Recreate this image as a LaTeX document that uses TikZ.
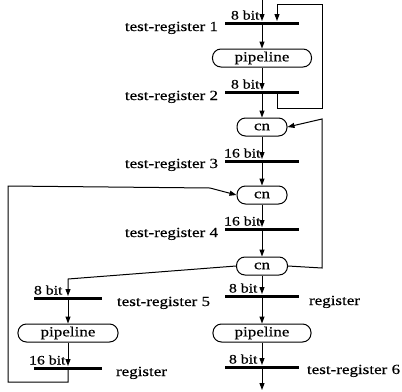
\documentclass[tikz,border=0pt]{standalone}
\usepackage{fontspec}
\setmainfont{Liberation Serif}[FakeStretch=1.22,FakeBold=0.4]
\usetikzlibrary{arrows.meta,calc}
\begin{document}
\begin{tikzpicture}[x=1bp,y=-1bp,line width=1bp,
  bar/.style={fill=black,draw=none,inner sep=0pt,minimum height=3bp,minimum width=74bp},
  lbar/.style={bar,minimum width=68bp},
  proc/.style={draw,line width=1bp,rounded corners=8.5bp,minimum height=18bp,inner sep=0pt,
    font=\fontsize{14}{16}\selectfont},
  arr/.style={-{Triangle[length=7bp,width=5bp]}},
  lbl/.style={font=\fontsize{13}{14}\selectfont,inner sep=0pt},
  txt/.style={font=\fontsize{14}{16}\selectfont,inner sep=0pt}]
\useasboundingbox (0,0) rectangle (402,392);
% main column
\coordinate (top) at (262,0);
\node[bar] (r1) at (262,23) {};
\node[proc,minimum width=99bp] (p1) at (262,58) {pipeline};
\node[bar] (r2) at (262,92) {};
\node[proc,minimum width=50bp] (c1) at (262,127) {cn};
\node[bar] (r3) at (262,161) {};
\node[proc,minimum width=50bp] (c2) at (262,195) {cn};
\node[bar] (r4) at (262,229) {};
\node[proc,minimum width=51bp] (c3) at (262,266) {cn};
\node[bar] (r5) at (262,296) {};
\node[proc,minimum width=98bp] (p3) at (262,333) {pipeline};
\node[bar] (r6) at (262,367) {};
\coordinate (bot) at (262,390);
% left column
\coordinate (lb) at (68,279);
\node[lbar] (l1) at (68,298) {};
\node[proc,minimum width=100bp] (p2) at (68,333) {pipeline};
\node[lbar] (l2) at (68,368) {};
% loop coordinates
\coordinate (fA) at (277,108);
\coordinate (fB) at (322,108);
\coordinate (fC) at (322,4);
\coordinate (fD) at (277,4);
\coordinate (gA) at (322,268);
\coordinate (gB) at (322,119);
\coordinate (lA) at (68,382);
\coordinate (lB) at (8,382);
\coordinate (lC) at (8,186);
\coordinate (lD) at (210,188);
% main flow
\draw[arr] (top) -- (r1);
\draw[arr] (r1) -- (p1);
\draw[arr] (p1) -- (r2);
\draw[arr] (r2) -- (c1);
\draw[arr] (c1) -- (r3);
\draw[arr] (r3) -- (c2);
\draw[arr] (c2) -- (r4);
\draw[arr] (r4) -- (c3);
\draw[arr] (c3) -- (r5);
\draw[arr] (r5) -- (p3);
\draw[arr] (p3) -- (r6);
\draw[arr] (r6) -- (bot);
% left branch
\draw[arr] (c3.west) -- (lb) -- (l1);
\draw[arr] (l1) -- (p2);
\draw[arr] (p2) -- (l2);
% feedback loops
\draw[arr] (fA |- r2.center) -- (fA) -- (fB) -- (fC) -- (fD) -- (fD |- r1.north);
\draw[arr] (c3.east) -- (gA) -- (gB) -- (c1.east);
\draw[arr] (l2.center) -- (lA) -- (lB) -- (lC) -- (lD) -- (c2.west);
% bit labels
\node[lbl,anchor=base east] (b1) at ($(r1.north)+(-2,-1.5)$) {8 bit};
\node[lbl,anchor=base east] (b2) at ($(r2.north)+(-2,-1.5)$) {8 bit};
\node[lbl,anchor=base east] (b3) at ($(r3.north)+(-1,-1.5)$) {16 bit};
\node[lbl,anchor=base east] (b4) at ($(r4.north)+(-1,-1.5)$) {16 bit};
\node[lbl,anchor=base east] (b5) at ($(r5.north)+(-4,-1.5)$) {8 bit};
\node[lbl,anchor=base east] (b6) at ($(r6.north)+(-4,-1.5)$) {8 bit};
\node[lbl,anchor=base east] (b7) at ($(l1.north)+(-5,-1.5)$) {8 bit};
\node[lbl,anchor=base east] (b8) at ($(l2.north)+(-2,-1.5)$) {16 bit};
% register names
\node[txt,anchor=base east] (t1) at ($(r1.west)+(-6,8)$) {test-register 1};
\node[txt,anchor=base east] (t2) at ($(r2.west)+(-6,8)$) {test-register 2};
\node[txt,anchor=base east] (t3) at ($(r3.west)+(-6,7)$) {test-register 3};
\node[txt,anchor=base east] (t4) at ($(r4.west)+(-6,8)$) {test-register 4};
\node[txt,anchor=base west] (t5) at ($(l1.east)+(14,8)$) {test-register 5};
\node[txt,anchor=base west] (t6) at ($(r5.east)+(9,9)$) {register};
\node[txt,anchor=base west] (t7) at ($(l2.east)+(13,8)$) {register};
\node[txt,anchor=base west] (t8) at ($(r6.east)+(7,7)$) {test-register 6};
\end{tikzpicture}
\end{document}
